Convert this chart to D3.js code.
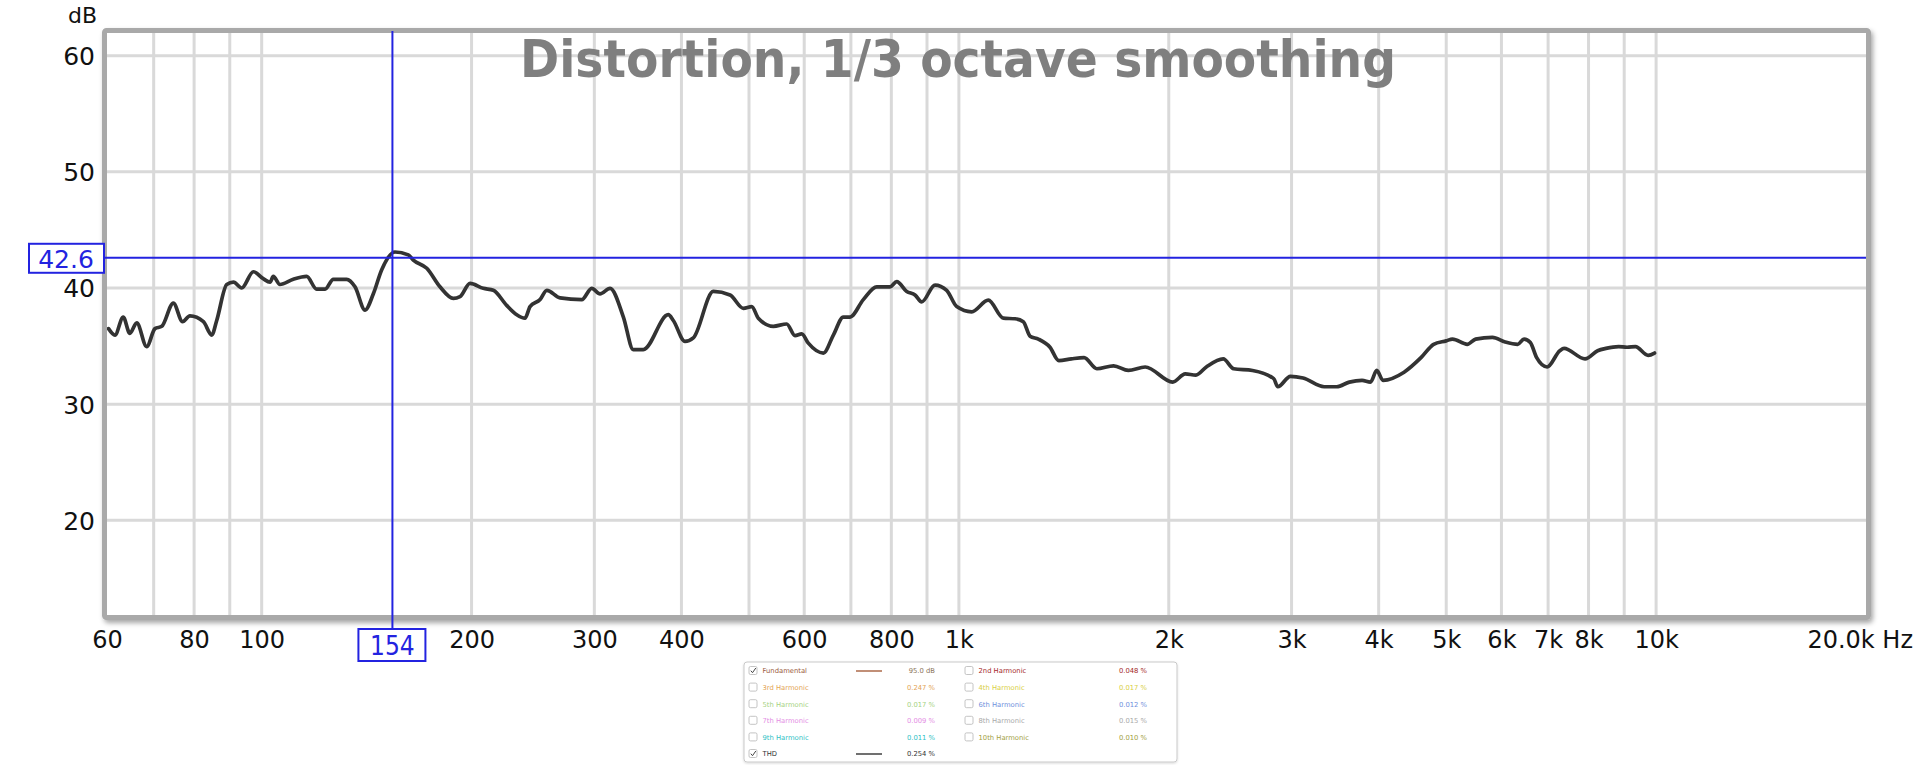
<!DOCTYPE html>
<html><head><meta charset="utf-8">
<script src="https://cdn.jsdelivr.net/npm/d3@7"></script>
<style>html,body{margin:0;padding:0;background:#fff;} svg{display:block;}</style>
</head><body>
<svg id="chart" width="1920" height="765"></svg>
<script>
const chartTitle = "Distortion, 1/3 octave smoothing";
const yUnit = "dB";
const xUnitLabel = "20.0k Hz";

// THD curve (frequency in Hz, level in dB)
const freqHz = [60.3,61.6,63.3,64.7,66.2,68.4,70.3,71.9,74.7,77.0,78.9,82.5,84.8,86.2,89.1,91.1,93.6,97.3,100.5,102.8,103.9,106.2,111.0,116.0,119.9,123.3,126.7,132.4,136.1,140.7,144.6,148.6,155.3,162.3,165.0,172.5,180.2,188.3,192.5,199.0,207.9,214.9,224.6,232.2,238.6,242.6,250.8,256.4,267.9,287.8,297.4,305.7,316.0,330.2,341.2,352.7,383.0,389.4,404.7,416.0,444.4,469.6,490.7,504.5,515.6,541.8,566.3,582.0,595.1,608.2,639.1,660.6,682.7,698.0,729.3,762.3,796.6,814.4,841.7,865.1,884.4,924.2,960.5,992.8,1043,1102,1158,1204,1237,1265,1300,1351,1391,1450,1512,1577,1667,1750,1850,2026,2112,2187,2264,2394,2478,2637,2828,2867,2989,3116,3341,3483,3631,3786,3893,3975,4058,4350,4600,4796,4999,5104,5360,5510,5824,6074,6332,6465,6601,6740,6977,7276,7378,7907,8244,8475,8836,9084,9340,9740,9948];
const thdDb = [36.5,35.95,37.5,36.1,37.0,34.95,36.5,36.7,38.7,37.1,37.6,37.1,35.95,37.2,40.3,40.5,40.0,41.4,40.8,40.5,41.0,40.3,40.75,41.0,39.9,39.9,40.75,40.75,40.1,38.1,39.5,41.55,43.1,42.85,42.4,41.7,40.1,39.1,39.25,40.4,39.97,39.8,38.5,37.7,37.4,38.4,39.0,39.8,39.15,39.0,39.97,39.5,39.97,37.5,34.7,34.7,37.7,37.2,35.4,35.7,39.7,39.4,38.25,38.4,37.4,36.7,36.9,35.9,36.05,35.25,34.4,35.95,37.5,37.5,39.0,40.1,40.1,40.55,39.7,39.4,38.8,40.25,39.8,38.4,37.95,38.95,37.4,37.35,37.1,35.85,35.6,34.9,33.75,33.9,34.0,33.05,33.3,32.9,33.2,31.9,32.6,32.5,33.2,33.9,33.05,32.9,32.2,31.5,32.4,32.25,31.5,31.5,31.9,32.05,31.9,32.9,32.05,32.75,34.0,35.15,35.45,35.6,35.15,35.6,35.75,35.35,35.15,35.6,35.3,34.0,33.2,34.6,34.8,33.9,34.6,34.8,34.95,34.9,34.95,34.2,34.4];

const xGridHz = [70,80,90,100,200,300,400,500,600,700,800,900,1000,2000,3000,4000,5000,6000,7000,8000,9000,10000];
const xTickHz = [60,80,100,200,300,400,600,800,1000,2000,3000,4000,5000,6000,7000,8000,10000];
const xTickLabels = ["60","80","100","200","300","400","600","800","1k","2k","3k","4k","5k","6k","7k","8k","10k"];
const yTickDb = [20,30,40,50,60];
const cursorHz = 154;
const cursorDb = 42.6;

const legendNames = ["Fundamental","2nd Harmonic","3rd Harmonic","4th Harmonic","5th Harmonic","6th Harmonic","7th Harmonic","8th Harmonic","9th Harmonic","10th Harmonic","THD"];
const legendValues = ["95.0 dB","0.048 %","0.247 %","0.017 %","0.017 %","0.012 %","0.009 %","0.015 %","0.011 %","0.010 %","0.254 %"];
const legendColors = ["#9a5a3c","#a52a2a","#e3a455","#d9cf45","#a6d283","#6f8fdc","#e48ee4","#a9a9a9","#2fbfc6","#a3a13f","#333333"];
const legendChecked = [true,false,false,false,false,false,false,false,false,false,true];

const svg = d3.select("#chart");
const L = 107, R = 1866, T = 33, B = 615;
const x = d3.scaleLog().domain([60, 20000]).range([L, R]);
const y = d3.scaleLinear().domain([11.85, 61.95]).range([B, T]);
const blue = "#2323e0";
const font = "'DejaVu Sans', Verdana, sans-serif";

const defs = svg.append("defs");
const f = defs.append("filter").attr("id","sh").attr("x","-5%").attr("y","-5%").attr("width","110%").attr("height","115%");
f.append("feDropShadow").attr("dx",2).attr("dy",3).attr("stdDeviation",2.5).attr("flood-color","#000").attr("flood-opacity",0.35);
const f2 = defs.append("filter").attr("id","sh2").attr("x","-5%").attr("y","-10%").attr("width","110%").attr("height","130%");
f2.append("feDropShadow").attr("dx",0).attr("dy",1).attr("stdDeviation",1).attr("flood-color","#000").attr("flood-opacity",0.15);
defs.append("clipPath").attr("id","plotclip").append("rect").attr("x",L).attr("y",T).attr("width",R-L).attr("height",B-T);

// frame with shadow
svg.append("rect").attr("x",L-2.5).attr("y",T-2.5).attr("width",R-L+5).attr("height",B-T+5)
  .attr("fill","#fff").attr("stroke","#a9a9a9").attr("stroke-width",5).attr("rx",2).attr("filter","url(#sh)");

const plot = svg.append("g").attr("clip-path","url(#plotclip)");
plot.selectAll("line.vg").data(xGridHz).join("line").attr("class","vg")
  .attr("x1",d=>x(d)).attr("x2",d=>x(d)).attr("y1",T).attr("y2",B)
  .attr("stroke","#d9d9d9").attr("stroke-width",3);
plot.selectAll("line.hg").data(yTickDb).join("line").attr("class","hg")
  .attr("x1",L).attr("x2",R).attr("y1",d=>y(d)).attr("y2",d=>y(d))
  .attr("stroke","#d9d9d9").attr("stroke-width",3);

// title
svg.append("text").attr("x",958).attr("y",77).attr("text-anchor","middle")
  .attr("font-family","'DejaVu Sans Condensed', 'Liberation Sans Narrow', 'DejaVu Sans', sans-serif")
  .attr("font-weight","bold").attr("font-size",52).attr("fill","#7f7f7f")
  .attr("textLength",876).attr("lengthAdjust","spacingAndGlyphs")
  .text(chartTitle);

// curve
const pts = freqHz.map((d,i)=>[d, thdDb[i]]);
plot.append("path").datum(pts)
  .attr("d", d3.line().x(d=>x(d[0])).y(d=>y(d[1])).curve(d3.curveMonotoneX))
  .attr("fill","none").attr("stroke","#333").attr("stroke-width",3.7)
  .attr("stroke-linejoin","round").attr("stroke-linecap","round");

// axes
const xAxis = svg.append("g").attr("transform",`translate(0,${B})`)
  .call(d3.axisBottom(x).tickValues(xTickHz).tickFormat((d,i)=>xTickLabels[i]).tickSize(0));
xAxis.select(".domain").remove();
xAxis.selectAll("text").attr("y",33).attr("dy",0).attr("font-family",font).attr("font-size",24).attr("fill","#111");
svg.append("text").attr("x",1913).attr("y",648).attr("text-anchor","end")
  .attr("font-family",font).attr("font-size",24).attr("fill","#111").text(xUnitLabel);

const yAxis = svg.append("g").attr("transform",`translate(${L},0)`)
  .call(d3.axisLeft(y).tickValues(yTickDb).tickSize(0));
yAxis.select(".domain").remove();
yAxis.selectAll("text").attr("x",-12).attr("dy","0.36em").attr("font-family",font).attr("font-size",25).attr("fill","#111");
svg.append("text").attr("x",97).attr("y",23).attr("text-anchor","end")
  .attr("font-family",font).attr("font-size",22).attr("fill","#111").text(yUnit);

// cursor
const cx = x(cursorHz), cy = y(cursorDb);
svg.append("line").attr("x1",105).attr("x2",R).attr("y1",cy).attr("y2",cy).attr("stroke",blue).attr("stroke-width",2);
svg.append("line").attr("x1",cx).attr("x2",cx).attr("y1",31).attr("y2",629).attr("stroke",blue).attr("stroke-width",2);
svg.append("rect").attr("x",29).attr("y",cy-14).attr("width",75).attr("height",29)
  .attr("fill","#fff").attr("stroke",blue).attr("stroke-width",2);
svg.append("text").attr("x",66).attr("y",cy+1).attr("dy","0.36em").attr("text-anchor","middle")
  .attr("font-family",font).attr("font-size",25).attr("fill",blue).text(cursorDb.toFixed(1));
svg.append("rect").attr("x",cx-34).attr("y",629).attr("width",67).attr("height",32)
  .attr("fill","#fff").attr("stroke",blue).attr("stroke-width",2);
svg.append("text").attr("x",cx).attr("y",655).attr("text-anchor","middle")
  .attr("font-family","'DejaVu Sans Condensed', 'DejaVu Sans', sans-serif").attr("font-size",26).attr("fill",blue).text(String(cursorHz));

// legend
const lg = svg.append("g");
lg.append("rect").attr("x",744).attr("y",662).attr("width",433).attr("height",100).attr("rx",3)
  .attr("fill","#fff").attr("stroke","#c9c9c9").attr("stroke-width",1).attr("filter","url(#sh2)");
const rowY = i => 671 + i*16.6;
const items = legendNames.map((n,i)=>{
  let col, row;
  if (i === 0) { col = 0; row = 0; }
  else if (i === legendNames.length-1) { col = 0; row = 5; }
  else { col = (i-1) % 2 === 0 ? 1 : 0; row = Math.floor((i-1)/2) + ((i-1)%2===0 ? 0 : 1); }
  return {n, v: legendValues[i], c: legendColors[i], chk: legendChecked[i], col, row, i};
});
const colX = [749, 965], valX = [935, 1147], lineX = [856, 882];
const it = lg.selectAll("g.item").data(items).join("g").attr("class","item");
it.append("rect").attr("x",d=>colX[d.col]).attr("y",d=>rowY(d.row)-4.5).attr("width",8).attr("height",8).attr("rx",1.5)
  .attr("fill","#fff").attr("stroke","#b5b5b5").attr("stroke-width",0.8);
it.filter(d=>d.chk).append("path")
  .attr("d",d=>{const bx=colX[d.col], by=rowY(d.row)-4.5; return `M${bx+1.8},${by+4.2} L${bx+3.5},${by+6.2} L${bx+6.8},${by+1.5}`;})
  .attr("fill","none").attr("stroke","#444").attr("stroke-width",1);
it.append("text").attr("x",d=>colX[d.col]+13.5).attr("y",d=>rowY(d.row)).attr("dy","0.35em")
  .attr("font-family",font).attr("font-size",6.8).attr("fill",d=>d.c).text(d=>d.n);
it.append("text").attr("x",d=>valX[d.col]).attr("y",d=>rowY(d.row)).attr("dy","0.35em").attr("text-anchor","end")
  .attr("font-family",font).attr("font-size",6.8).attr("fill",d=>d.i===0?"#8a7358":d.c).text(d=>d.v);
it.filter(d=>d.chk).append("line").attr("x1",lineX[0]).attr("x2",lineX[1]).attr("y1",d=>rowY(d.row)).attr("y2",d=>rowY(d.row))
  .attr("stroke",d=>d.i===0?"#a0522d":"#222").attr("stroke-width",1.3);
</script>
</body></html>
